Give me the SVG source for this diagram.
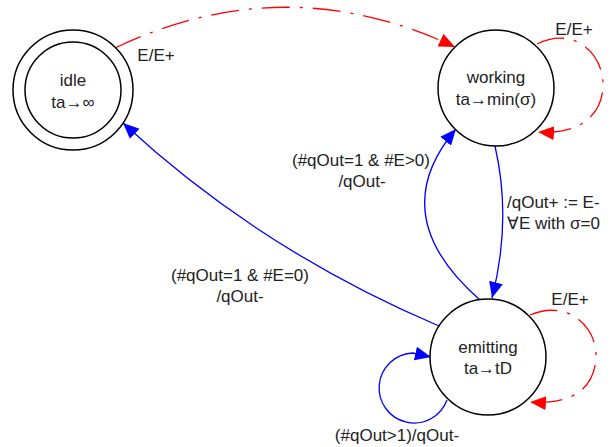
<svg xmlns="http://www.w3.org/2000/svg" width="616" height="447" viewBox="0 0 616 447">
<defs>
<style>
text{font-family:"Liberation Sans",Arial,sans-serif;font-size:17px;fill:#222;text-anchor:middle}
.st{fill:#fff;stroke:#000;stroke-width:1.5}
.blue{fill:none;stroke:#0000ff;stroke-width:1.3}
.red{fill:none;stroke:#ff0000;stroke-width:1.3;stroke-dasharray:28,10,3,10}
</style>
<marker id="ab" markerUnits="userSpaceOnUse" markerWidth="18" markerHeight="16" refX="16" refY="7" orient="auto"><path d="M0,0 L16,7 L0,14 Z" fill="#0000ff"/></marker>
<marker id="ar" markerUnits="userSpaceOnUse" markerWidth="18" markerHeight="16" refX="16" refY="7" orient="auto"><path d="M0,0 L16,7 L0,14 Z" fill="#ff0000"/></marker>
</defs>
<rect width="616" height="447" fill="#fff"/>
<g id="connectors">
<path class="red" d="M115,48 Q285,-33 455,47" marker-end="url(#ar)"/>
<path class="red" d="M537,44 C575,25 605,55 603,88 C601,115 580,135 538,132" marker-end="url(#ar)"/>
<path class="red" d="M530,315 C570,298 598,330 596,358 C594,390 570,405 530,402" marker-end="url(#ar)"/>
<path class="blue" d="M495,146 Q512,220 492,298" marker-end="url(#ab)"/>
<path class="blue" d="M480,300 Q383,215 456,129" marker-end="url(#ab)"/>
<path class="blue" d="M439,326 Q260,250 123,123" marker-end="url(#ab)"/>
<path class="blue" d="M447,400 A35,35 0 1 1 413,353 L431,357" marker-end="url(#ab)"/>
<text x="156" y="61">E/E+</text>
<text x="574" y="35">E/E+</text>
<text x="570" y="305">E/E+</text>
<text x="507" y="208" style="text-anchor:start">/qOut+ := E-</text>
<text x="507" y="229" style="text-anchor:start">∀E with σ=0</text>
<text x="361" y="166">(#qOut=1 &amp; #E&gt;0)</text>
<text x="362" y="187">/qOut-</text>
<text x="240" y="281">(#qOut=1 &amp; #E=0)</text>
<text x="240" y="302">/qOut-</text>
<text x="397" y="441">(#qOut&gt;1)/qOut-</text>
</g>
<g id="idle">
<circle class="st" cx="73" cy="90" r="60"/>
<circle class="st" cx="73" cy="90" r="48"/>
<text x="73" y="86">idle</text>
<text x="73" y="108">ta→∞</text>
</g>
<g id="working">
<circle class="st" cx="496" cy="88" r="58"/>
<text x="496" y="83">working</text>
<text x="496" y="105">ta→min(σ)</text>
</g>
<g id="emitting">
<circle class="st" cx="488" cy="357" r="58"/>
<text x="488" y="353">emitting</text>
<text x="488" y="374">ta→tD</text>
</g>
</svg>
